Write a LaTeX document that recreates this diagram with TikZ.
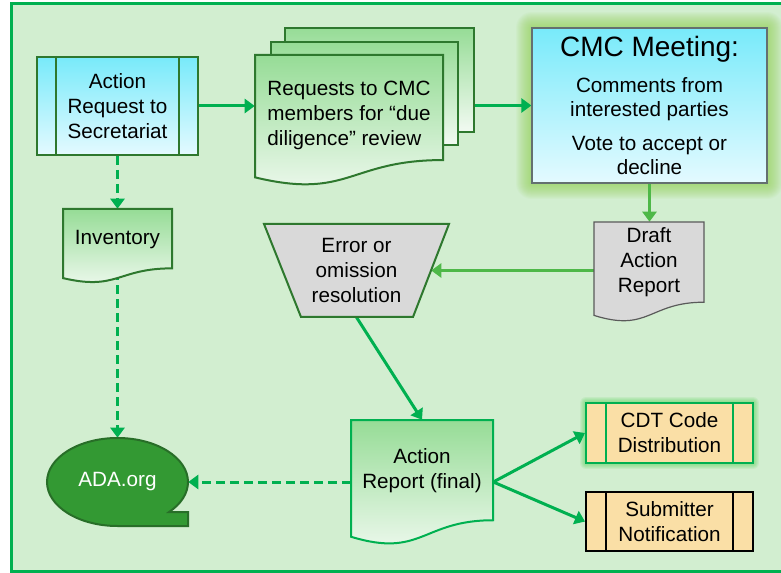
\documentclass[tikz,border=0pt]{standalone}
\usepackage{fontspec}
\setmainfont{Liberation Sans}
\usetikzlibrary{arrows.meta,calc,shapes.geometric}
\pgfdeclarelayer{bg}
\pgfdeclarelayer{background}
\pgfsetlayers{bg,background,main}

\definecolor{bgfill}{RGB}{210,238,208}
\definecolor{frameg}{RGB}{0,176,80}
\definecolor{dkg}{RGB}{46,120,46}
\definecolor{arrl}{RGB}{78,184,72}
\definecolor{cyT}{RGB}{120,234,250}
\definecolor{cyM}{RGB}{75,226,250}
\definecolor{cyB}{RGB}{228,250,255}
\definecolor{gnT}{RGB}{150,220,150}
\definecolor{gnB}{RGB}{242,250,242}
\definecolor{grayF}{RGB}{217,217,217}
\definecolor{grayD}{RGB}{90,90,90}
\definecolor{wheatF}{RGB}{250,223,166}
\definecolor{adaF}{RGB}{51,153,51}
\definecolor{adaD}{RGB}{40,110,40}
\definecolor{glowA}{RGB}{146,208,80}
\definecolor{glowB}{RGB}{90,210,90}
\definecolor{cmcD}{RGB}{100,112,112}

% style, x1, y1, x2, H
\newcommand\docshape[5]{%
  \path[#1] (#2,#3) -- (#4,#3) -- (#4,{#3+0.802*#5})
    .. controls ({(#2+#4)/2},{#3+0.802*#5}) and ({(#2+#4)/2},{#3+1.107*#5}) ..
    (#2,{#3+0.934*#5}) -- cycle;}

\begin{document}
\begin{tikzpicture}[x=0.75pt,y=-0.75pt,
  txt/.style={font=\fontsize{15.5}{18.75}\selectfont, align=center, text=black},
  sz/.style 2 args={inner sep=0pt, minimum width=#1*0.75pt, minimum height=#2*0.75pt},
  docstyle/.style={draw=dkg, line width=1.5pt, top color=gnT, bottom color=gnB},
  darr/.style={frameg, line width=2.25pt, -{Triangle[length=7.5pt,width=10.5pt]}},
  larr/.style={darr, arrl},
  dashedarr/.style={darr, dash pattern=on 6.75pt off 3.75pt},
  ]
\useasboundingbox (0,0) rectangle (781,573);

\begin{pgfonlayer}{bg}
  \fill[white] (0,0) rectangle (781,573);
  \draw[frameg, line width=2.25pt, fill=bgfill] (11.5,3.5) rectangle (784,571);
  \foreach \r in {1,...,16}
    \draw[glowA, opacity=0.055, line width={\r*1.5pt}, line join=round] (532,28) rectangle (767,183);
  \foreach \r in {1,...,6}
    \draw[glowB, opacity=0.12, line width={\r*1.5pt}, line join=round] (586,403) rectangle (753,463);
\end{pgfonlayer}

% Action Request to Secretariat
\node[sz={161}{98}, draw=dkg, line width=1.5pt,
      top color=cyT, middle color=cyM, bottom color=cyB, txt] (areq) at (117.5,106)
      {Action\\Request to\\Secretariat};
\draw[dkg, line width=1.5pt]
  ($(areq.north west)+(20,0)$) -- ($(areq.south west)+(20,0)$)
  ($(areq.north east)+(-20,0)$) -- ($(areq.south east)+(-20,0)$);

% Requests (multi-document)
\path[docstyle] (285,28) rectangle (474,132);
\path[docstyle] (271,42) rectangle (458,145);
\docshape{docstyle}{255}{55}{443}{131}
\node[sz={189}{104}] (reqsback) at (379.5,80) {};
\node[sz={188}{120}, txt, align=left] (reqs) at (349,115)
  {Requests to CMC\\members for “due\\diligence” review};

% CMC Meeting
\node[sz={235}{155}, draw=cmcD, line width=0.9pt,
      top color=cyT, middle color=cyM, bottom color=cyB,
      align=center, font=\fontsize{15.5}{18.4}\selectfont] (cmc) at (649.5,105.5)
  {{\fontsize{21}{25}\selectfont CMC Meeting:}\\[8.5pt]Comments from\\interested parties\\[6.5pt]Vote to accept or\\decline};

% Inventory
\docshape{docstyle}{63}{209}{172}{74}
\node[sz={109}{62}, txt] (inv) at (117.5,240) {Inventory};

% Error or omission resolution
\path[draw=dkg, line width=1.5pt, fill=grayF] (264,224) -- (449,224) -- (413,317) -- (301,317) -- cycle;
\node[sz={185}{93}, txt] (err) at (356.5,270.5) {Error or\\omission\\resolution};
\coordinate (errR) at ($(err.north east)!0.5!(err.south east)+(-18,0)$);

% Draft Action Report
\docshape{draw=grayD, line width=0.9pt, fill=grayF}{594}{222}{704}{100}
\node[sz={110}{80}, txt] (draft) at (649,262) {Draft\\Action\\Report};

% ADA.org
\path[draw=adaD, line width=1.5pt, fill=adaF] (117.5,526)
  arc[start angle=90, end angle=403, x radius=70.5, y radius=44]
  -- (188,512) -- (188,526) -- cycle;
\node[ellipse, inner sep=0pt, minimum width=105.75pt, minimum height=66pt,
      font=\fontsize{15.5}{18.75}\selectfont, text=white] (ada) at (117.5,482) {ADA.org};

% Action Report (final)
\docshape{draw=frameg, line width=1.5pt, top color=gnT, bottom color=gnB}{351}{420}{493}{125}
\node[sz={142}{101}, txt] (arf) at (422,470.5) {Action\\Report (final)};
\coordinate (arfR) at (arf.east |- ada.east);

% CDT Code Distribution
\node[sz={167}{60}, draw=frameg, line width=1.5pt, fill=wheatF, txt] (cdt) at (669.5,433)
  {CDT Code\\Distribution};
\draw[frameg, line width=1.5pt]
  ($(cdt.north west)+(21,0)$) -- ($(cdt.south west)+(21,0)$)
  ($(cdt.north east)+(-21,0)$) -- ($(cdt.south east)+(-21,0)$);

% Submitter Notification
\node[sz={167}{59}, draw=black, line width=1.5pt, fill=wheatF, txt] (subm) at (669.5,521.5)
  {Submitter\\Notification};
\draw[black, line width=1.5pt]
  ($(subm.north west)+(21,0)$) -- ($(subm.south west)+(21,0)$)
  ($(subm.north east)+(-21,0)$) -- ($(subm.south east)+(-21,0)$);

% Connectors
\begin{pgfonlayer}{background}
  \draw[darr] (areq.east) -- (areq.east -| reqs.west);
  \draw[darr] (reqsback.east |- cmc.west) -- (cmc.west);
  \draw[dashedarr] (areq.south) -- (inv.north);
  \draw[dashedarr] (inv.south) -- (ada.north);
  \draw[larr] (cmc.south) -- (cmc.south |- draft.north);
  \draw[larr] (draft.west |- errR) -- (errR);
  \draw[darr] (err.south) -- (arf.north);
  \draw[dashedarr] (arf.west |- ada.east) -- (ada.east);
  \draw[darr] (arfR) -- (cdt.west);
  \draw[darr] (arfR) -- (subm.west);
\end{pgfonlayer}
\end{tikzpicture}
\end{document}
